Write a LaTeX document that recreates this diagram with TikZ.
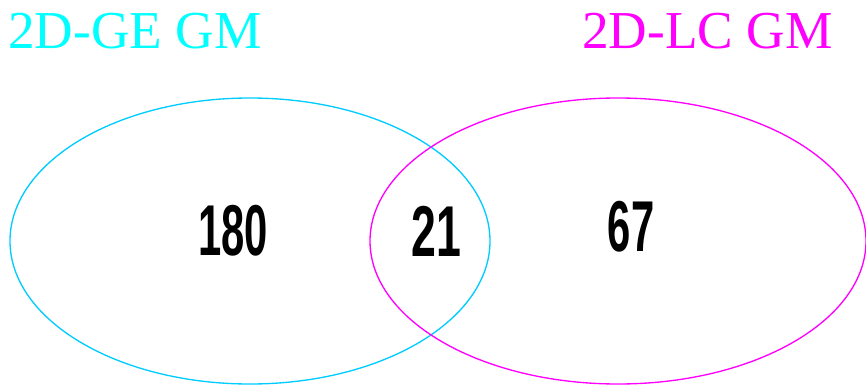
\documentclass[tikz,border=0pt]{standalone}
\usepackage{fontspec}
\setmainfont{Liberation Serif}
\newfontfamily\countfont{Liberation Sans}
\usetikzlibrary{positioning}
\definecolor{GeCyan}{HTML}{00FFFF}
\definecolor{GeRing}{HTML}{00CCFF}
\definecolor{LcMagenta}{HTML}{FF00FF}

\begin{document}
\begin{tikzpicture}[x=0.75pt, y=-0.75pt,
  setring/.style={line width=1pt},
  setlabel/.style={inner sep=0pt, anchor=base west, font=\fontsize{40}{40}\selectfont},
  count/.style={inner sep=0pt, font=\fontsize{54}{54}\selectfont\countfont\bfseries}]
\useasboundingbox (0,0) rectangle (866,385);

% Sets
\draw[setring, GeRing] (250,241) ellipse [x radius=240, y radius=143];
\draw[setring, LcMagenta] (618,241) ellipse [x radius=248, y radius=143];

% Set names
\node[setlabel, GeCyan] (gename) at (8,49) {2D-GE GM};
\node[setlabel, LcMagenta] (lcname) at (582,49) {2D-LC GM};

% Counts
\node[count] (geonly) at (233,231) {\scalebox{0.58}[1]{180}};
\node[count] (both) at (436,231) {\scalebox{0.62}[1]{21}};
\node[count] (lconly) at (631,227) {\scalebox{0.58}[1]{67}};
\end{tikzpicture}
\end{document}
